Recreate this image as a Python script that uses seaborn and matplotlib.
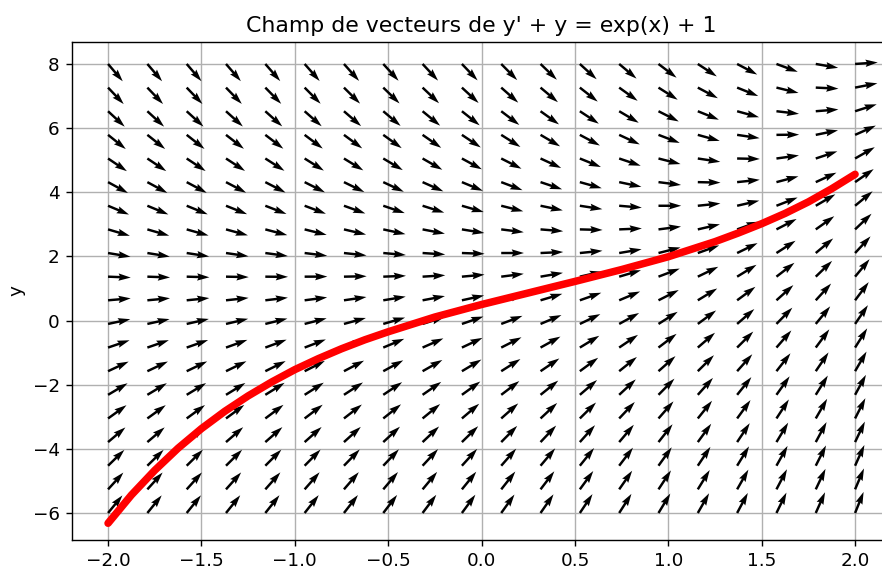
import numpy as np
import pandas as pd
import matplotlib
matplotlib.use("Agg")
import matplotlib.pyplot as plt
import seaborn as sns

# grid of the direction field
x_min, x_max, n_cols = -2.0, 2.0, 20
y_min, y_max, n_rows = -6.0, 8.0, 20

# solution curve
curve_x = [-2.0, -1.875, -1.75, -1.625, -1.5, -1.375, -1.25, -1.125, -1.0,
           -0.875, -0.75, -0.625, -0.5, -0.25, 0.0, 0.25, 0.5, 0.75, 1.0,
           1.25, 1.375, 1.5, 1.625, 1.75, 1.875, 2.0]
curve_y = [-6.32, -5.44, -4.67, -3.98, -3.37, -2.83, -2.35, -1.92, -1.53,
           -1.19, -0.88, -0.60, -0.35, 0.11, 0.5, 0.86, 1.22, 1.59, 1.99,
           2.46, 2.73, 3.02, 3.34, 3.70, 4.11, 4.56]

x_ticks = [-2.0, -1.5, -1.0, -0.5, 0.0, 0.5, 1.0, 1.5, 2.0]
y_ticks = [-6, -4, -2, 0, 2, 4, 6, 8]

sns.set_style("ticks")
plt.rcParams['font.family'] = ['DejaVu Sans']
plt.rcParams['text.color'] = 'black'
plt.rcParams['axes.labelcolor'] = 'black'

# y' = exp(x) + 1 - y
X, Y = np.meshgrid(np.linspace(x_min, x_max, n_cols), np.linspace(y_min, y_max, n_rows))
slope = np.exp(X) + 1 - Y
norm = np.sqrt(1 + slope**2)
U = 1 / norm
V = slope / norm

fig = plt.figure(figsize=(7.0, 4.54), dpi=126)
ax = fig.add_axes([72 / 882, 32 / 572, 818 / 882, 498 / 572])

ax.grid(True, color='#b0b0b0', linewidth=0.8, zorder=0)
ax.set_axisbelow(True)
ax.quiver(X, Y, U, V, angles='xy', color='black', zorder=2)

df = pd.DataFrame({'x': curve_x, 'y': curve_y})
sns.lineplot(data=df, x='x', y='y', color='red', linewidth=4.3, ax=ax, zorder=3)

ax.set_xlim(-2.193, 2.187)
ax.set_ylim(-6.842, 8.686)
ax.set_xticks(x_ticks)
ax.set_yticks(y_ticks)
ax.set_xlabel('')
ax.set_ylabel('y', fontsize=10.5)
ax.set_title("Champ de vecteurs de y' + y = exp(x) + 1", fontsize=12.6, color='black')
for s in ax.spines.values():
    s.set_color('black')
    s.set_linewidth(0.8)
ax.tick_params(colors='black', labelsize=10.5)

fig.savefig('out.png', dpi=126)
